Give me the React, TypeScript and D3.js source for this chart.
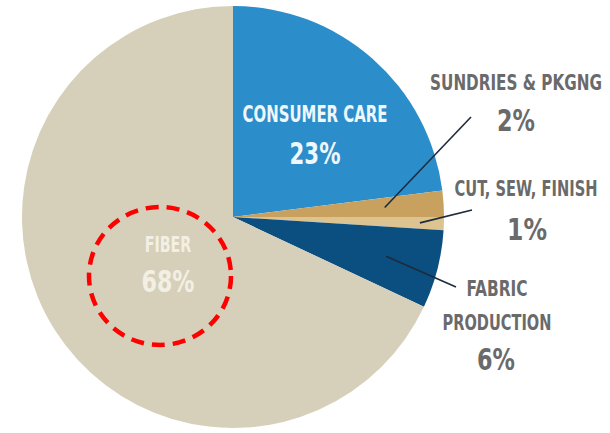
import React, { useLayoutEffect, useRef, useState } from "react";
import * as d3 from "d3";

const categories = ["CONSUMER CARE", "SUNDRIES & PKGNG", "CUT, SEW, FINISH", "FABRIC PRODUCTION", "FIBER"];
const values = [23, 2, 1, 6, 68];
const percentLabels = ["23%", "2%", "1%", "6%", "68%"];
const colors = ["#2b8dca", "#c8a15e", "#dcc390", "#0b4f80", "#d6d0ba"];

const W = 610;
const H = 433;
const CX = 233;
const CY = 217;
const R = 211;
const FONT = "'Liberation Sans Narrow', 'DejaVu Sans Condensed', 'Roboto', sans-serif";

type Line = { text: string; x: number; y: number; len: number; size: number; pct?: boolean };
type Lab = {
  lines: Line[];
  color: string;
  leader?: { r: number; ex: number; ey: number };
};

const layout: Lab[] = [
  {
    color: "#eef7fc",
    lines: [
      { text: categories[0], x: 315, y: 122, len: 145, size: 23 },
      { text: percentLabels[0], x: 315, y: 164, len: 51, size: 31, pct: true },
    ],
  },
  {
    color: "#6a6a6a",
    lines: [
      { text: categories[1], x: 516, y: 90, len: 172, size: 21 },
      { text: percentLabels[1], x: 516, y: 131, len: 38, size: 31, pct: true },
    ],
    leader: { r: 152, ex: 471, ey: 117 },
  },
  {
    color: "#6a6a6a",
    lines: [
      { text: categories[2], x: 526, y: 196, len: 143, size: 21 },
      { text: percentLabels[2], x: 527, y: 240, len: 40, size: 31, pct: true },
    ],
    leader: { r: 187, ex: 472, ey: 210 },
  },
  {
    color: "#6a6a6a",
    lines: [
      { text: "FABRIC", x: 497, y: 296, len: 61, size: 21 },
      { text: "PRODUCTION", x: 497, y: 330, len: 109, size: 21 },
      { text: percentLabels[3], x: 496, y: 370, len: 38, size: 31, pct: true },
    ],
    leader: { r: 158, ex: 456, ey: 287 },
  },
  {
    color: "#f3efe4",
    lines: [
      { text: categories[4], x: 168, y: 252, len: 47, size: 21 },
      { text: percentLabels[4], x: 168, y: 292, len: 53, size: 31, pct: true },
    ],
  },
];

function FitText({ line, color }: { line: Line; color: string }) {
  const ref = useRef<SVGTextElement>(null);
  const [s, setS] = useState(1);
  useLayoutEffect(() => {
    if (ref.current) {
      const w = ref.current.getBBox().width;
      if (w > 0) setS(line.len / w);
    }
  }, [line.len, line.text]);
  return (
    <g transform={`translate(${line.x},${line.y}) scale(${s},1)`}>
      <text
        ref={ref}
        x={0}
        y={0}
        textAnchor="middle"
        fontSize={line.size}
        fontWeight={line.pct ? 700 : 600}
        fill={color}
      >
        {line.text}
      </text>
    </g>
  );
}

export default function App() {
  const pie = d3
    .pie<number>()
    .sort(null)
    .startAngle(0)
    .endAngle(2 * Math.PI)
    .value((d) => d);
  const arcs = pie(values);
  const arc = d3.arc<d3.PieArcDatum<number>>().innerRadius(0).outerRadius(R);

  return (
    <svg
      width={W}
      height={H}
      style={{ position: "absolute", left: 0, top: 0, background: "#ffffff" }}
      fontFamily={FONT}
    >
      <g transform={`translate(${CX},${CY})`}>
        {arcs.map((a, i) => (
          <path key={i} d={arc(a) || ""} fill={colors[i]} />
        ))}
      </g>
      {layout.map((lab, i) => {
        let leader = null;
        if (lab.leader) {
          const a = arcs[i];
          const mid = (a.startAngle + a.endAngle) / 2;
          const sx = CX + lab.leader.r * Math.sin(mid);
          const sy = CY - lab.leader.r * Math.cos(mid);
          leader = (
            <line x1={sx} y1={sy} x2={lab.leader.ex} y2={lab.leader.ey} stroke="#1d2b3a" strokeWidth={1.6} />
          );
        }
        return (
          <g key={i}>
            {leader}
            {lab.lines.map((l, j) => (
              <FitText key={j} line={l} color={lab.color} />
            ))}
          </g>
        );
      })}
      <ellipse
        cx={160}
        cy={276}
        rx={71}
        ry={69}
        fill="none"
        stroke="#ff0000"
        strokeWidth={4.5}
        strokeDasharray="13 8"
      />
    </svg>
  );
}
